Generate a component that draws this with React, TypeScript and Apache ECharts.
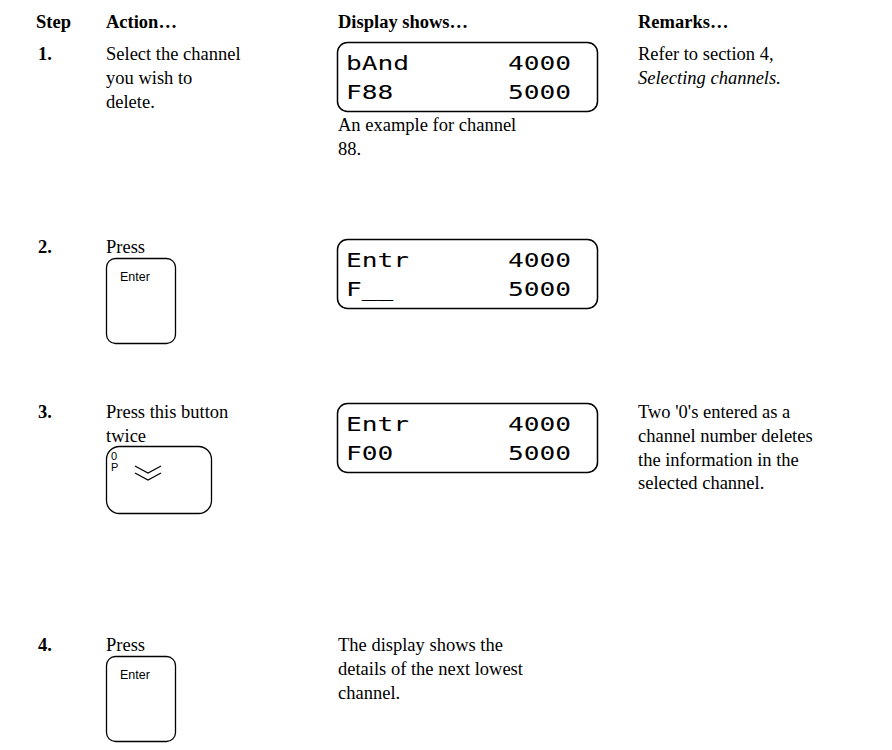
import React, { useEffect, useRef } from "react";
import * as echarts from "echarts";

const headers = ["Step", "Action…", "Display shows…", "Remarks…"];
const stepNumbers = ["1.", "2.", "3.", "4."];
const actionLines = [
  ["Select the channel", "you wish to", "delete."],
  ["Press"],
  ["Press this button", "twice"],
  ["Press"],
];
const displayLines = [
  [["bAnd", "4000"], ["F88", "5000"]],
  [["Entr", "4000"], ["F__", "5000"]],
  [["Entr", "4000"], ["F00", "5000"]],
  [],
];
const displayNotes = [
  ["An example for channel", "88."],
  [],
  [],
  ["The display shows the", "details of the next lowest", "channel."],
];
const remarkLines = [
  ["Refer to section 4,", "Selecting channels."],
  [],
  ["Two '0's entered as a", "channel number deletes", "the information in the", "selected channel."],
  [],
];
const italicRemarks = ["Selecting channels."];
const buttonKinds = ["", "Enter", "0P", "Enter"];
const zeroButtonLabels = ["0", "P"];

// layout
const W = 892;
const H = 750;
const COL = [36, 106, 338, 638];
const HEADER_MID = 22;
const ROW_MID = [54, 247, 412, 645];
const LINE_H = 23.8;
const DISPLAY_TOP = [42, 239, 403];
const DISPLAY_W = 260;
const DISPLAY_H = 69;
const NOTE_MID = [125, 0, 0, 645];
const BUTTON_TOP = [0, 258, 446, 656];
const SERIF = "'Liberation Serif', 'Times New Roman', serif";
const SANS = "'Liberation Sans', Arial, sans-serif";
const SEG = "'DejaVu Sans Mono', monospace";

function txt(text: string, x: number, y: number, font: string) {
  return {
    type: "text",
    x,
    y,
    silent: true,
    style: { text, x: 0, y: 0, font, fill: "#000", align: "left", verticalAlign: "middle" },
  };
}

function buildGraphic() {
  const g: any[] = [];
  headers.forEach((h, i) => {
    g.push(txt(h, COL[i], HEADER_MID, `bold 18.5px ${SERIF}`));
  });
  stepNumbers.forEach((s, r) => {
    g.push(txt(s, 38, ROW_MID[r], `bold 18.5px ${SERIF}`));
    actionLines[r].forEach((l, k) => {
      g.push(txt(l, COL[1], ROW_MID[r] + k * LINE_H, `18.5px ${SERIF}`));
    });
    remarkLines[r].forEach((l, k) => {
      const it = italicRemarks.includes(l);
      g.push(txt(l, COL[3], ROW_MID[r] + k * LINE_H, `${it ? "italic " : ""}18.5px ${SERIF}`));
    });
    displayNotes[r].forEach((l, k) => {
      g.push(txt(l, COL[2], NOTE_MID[r] + k * LINE_H, `18.5px ${SERIF}`));
    });
    if (displayLines[r].length) {
      const top = DISPLAY_TOP[r];
      g.push({
        type: "rect",
        silent: true,
        shape: { x: 337.5, y: top + 0.5, width: DISPLAY_W, height: DISPLAY_H, r: 10 },
        style: { fill: "none", stroke: "#000", lineWidth: 1.5 },
      });
      displayLines[r].forEach((pair, k) => {
        const mid = top + 21 + k * 29;
        [346, 508].forEach((x, j) => {
          g.push({
            type: "text",
            x,
            y: mid,
            scaleX: 1.38,
            silent: true,
            style: { text: pair[j], x: 0, y: 0, font: `19px ${SEG}`, fill: "#000", align: "left", verticalAlign: "middle" },
          });
        });
      });
    }
    const kind = buttonKinds[r];
    if (kind === "Enter") {
      const top = BUTTON_TOP[r];
      g.push({
        type: "rect",
        silent: true,
        shape: { x: 106.5, y: top + 0.5, width: 69, height: 85, r: 9 },
        style: { fill: "none", stroke: "#000", lineWidth: 1.3 },
      });
      g.push(txt(kind, 120, top + 19, `12.5px ${SANS}`));
    } else if (kind === "0P") {
      const top = BUTTON_TOP[r];
      g.push({
        type: "rect",
        silent: true,
        shape: { x: 106.5, y: top + 0.5, width: 105, height: 67, r: 13 },
        style: { fill: "none", stroke: "#000", lineWidth: 1.3 },
      });
      g.push(txt(zeroButtonLabels[0], 111, top + 10, `11px ${SANS}`));
      g.push(txt(zeroButtonLabels[1], 111, top + 20.5, `11px ${SANS}`));
      [0, 7].forEach((dy) => {
        g.push({
          type: "polyline",
          silent: true,
          shape: { points: [[135, top + 20 + dy], [148, top + 27 + dy], [161, top + 20 + dy]] },
          style: { fill: "none", stroke: "#000", lineWidth: 1.2 },
        });
      });
    }
  });
  return g;
}

export default function App() {
  const ref = useRef<HTMLDivElement>(null);
  useEffect(() => {
    if (!ref.current) return;
    const chart = echarts.init(ref.current, undefined, { renderer: "svg" });
    chart.setOption({
      animation: false,
      backgroundColor: "#fff",
      graphic: { elements: buildGraphic() },
    });
    return () => chart.dispose();
  }, []);
  return <div ref={ref} style={{ position: "fixed", left: 0, top: 0, width: W, height: H, background: "#fff" }} />;
}
